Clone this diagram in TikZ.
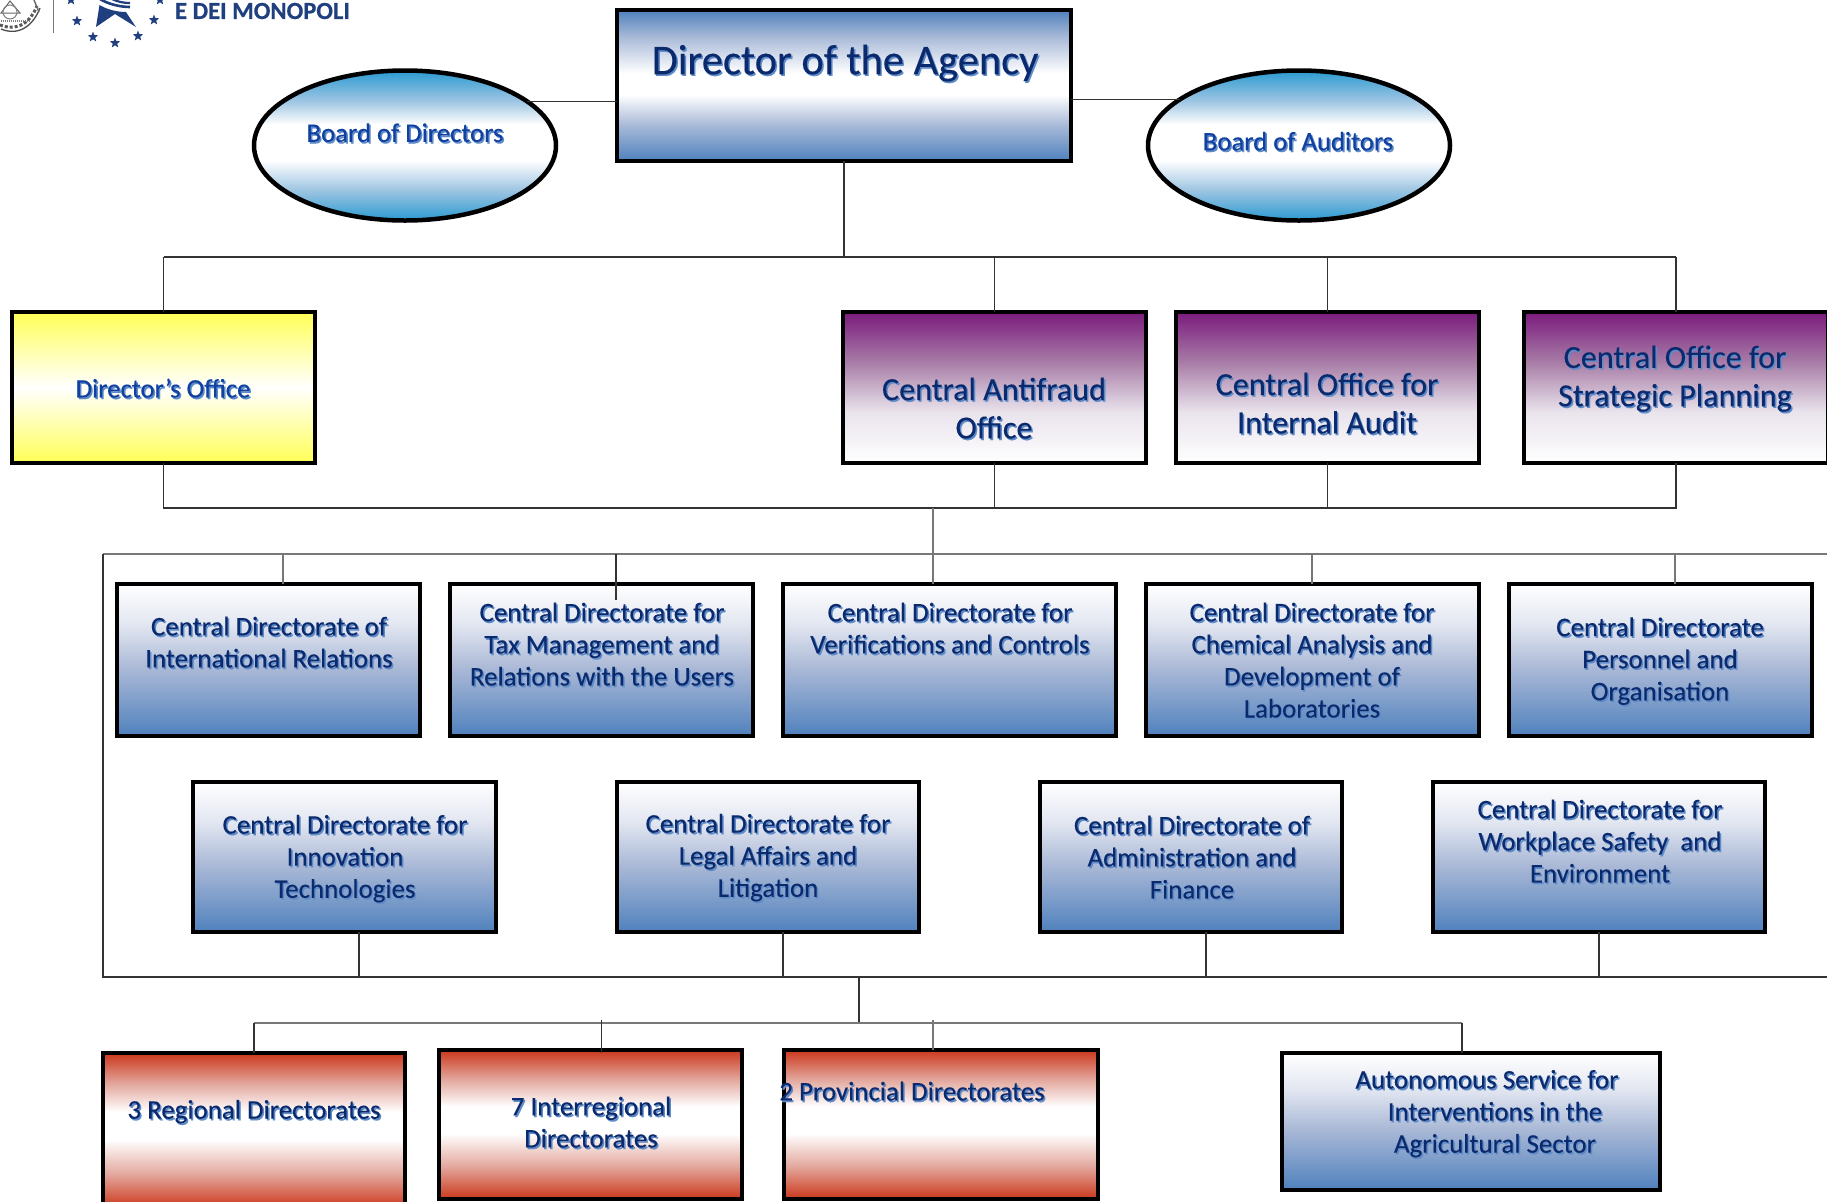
\documentclass[tikz,border=0pt]{standalone}
\usepackage{fontspec}
\setmainfont{Carlito}[FakeBold=0.25]
\newfontfamily\logofont{Carlito}[FakeBold=0.6]
\usetikzlibrary{shapes.geometric,calc}
\definecolor{navy}{HTML}{0B2A6E}
\definecolor{royal}{HTML}{1040A0}
\definecolor{shd}{HTML}{5F8CC8}
\definecolor{ln}{HTML}{333333}
\definecolor{lg}{HTML}{777777}
\definecolor{lblue}{HTML}{4F81BD}
\definecolor{logob}{HTML}{1F3F7F}
\definecolor{dirm}{HTML}{A9BAD8}
\pgfdeclareverticalshading{gdir}{100bp}{color(0bp)=(lblue);color(25bp)=(lblue);color(37bp)=(dirm);color(47bp)=(white);color(54bp)=(white);color(66bp)=(dirm);color(75bp)=(lblue);color(100bp)=(lblue)}
\definecolor{sky}{HTML}{2A9AD0}
\definecolor{skym}{HTML}{9CC4E2}
\pgfdeclareverticalshading{gsky}{100bp}{color(0bp)=(sky);color(25bp)=(sky);color(35bp)=(skym);color(45bp)=(white);color(57bp)=(white);color(65bp)=(skym);color(75bp)=(sky);color(100bp)=(sky)}
\definecolor{yel}{HTML}{FFFF55}
\pgfdeclareverticalshading{gyel}{100bp}{color(0bp)=(yel);color(25bp)=(yel);color(50bp)=(white);color(75bp)=(yel);color(100bp)=(yel)}
\definecolor{pur}{HTML}{7A1A7C}
\definecolor{purm}{HTML}{A97FA8}
\definecolor{purl}{HTML}{E9E3EC}
\pgfdeclareverticalshading{gpur}{100bp}{color(0bp)=(white);color(25bp)=(white);color(42bp)=(purl);color(58bp)=(purm);color(75bp)=(pur);color(100bp)=(pur)}
\definecolor{blm}{HTML}{A9B8D6}
\definecolor{bll}{HTML}{E3E7F1}
\pgfdeclareverticalshading{gblu}{100bp}{color(0bp)=(lblue);color(25bp)=(lblue);color(47bp)=(blm);color(62bp)=(bll);color(75bp)=(white);color(100bp)=(white)}
\definecolor{redc}{HTML}{CB371B}
\definecolor{redm}{HTML}{E3A89E}
\pgfdeclareverticalshading{gred}{100bp}{color(0bp)=(redc);color(25bp)=(redc);color(36bp)=(redm);color(47bp)=(white);color(56bp)=(white);color(65bp)=(redm);color(75bp)=(redc);color(100bp)=(redc)}
\newcommand\st[1]{\leavevmode\rlap{\kern1.5bp\raisebox{-1.7bp}{\textcolor{shd}{#1}}}#1}
\newcommand\bx[6]{\node[boxbase,#2,minimum width={(#5-#3-4)*1bp},minimum height={(#6-#4-4)*1bp}] (#1) at ({(#3+#5)/2},{(#4+#6)/2}) {};}
\tikzset{
 boxbase/.style={draw=black,line width=4bp,rectangle,inner sep=0pt,outer sep=0pt},
 dirbox/.style={shading=gdir},
 yelbox/.style={shading=gyel},
 purbox/.style={shading=gpur},
 blubox/.style={shading=gblu},
 redbox/.style={shading=gred},
 oval/.style={draw=black,line width=4.5bp,ellipse,shading=gsky,inner sep=0pt,outer sep=0pt,minimum width=302bp,minimum height=150bp},
 txt/.style={text=navy,align=center,inner sep=0pt},
 tbig/.style={txt,font=\fontsize{42.6}{44}\selectfont},
 tmid/.style={txt,font=\fontsize{32.3}{38.5}\selectfont},
 trow/.style={txt,font=\fontsize{27}{32.2}\selectfont},
 tsm/.style={txt,text=royal,font=\fontsize{26.8}{32}\selectfont},
 conn/.style={draw=ln,line width=1.1bp},
 conng/.style={draw=lg,line width=1.4bp},
 bar/.style={draw=lg,line width=2.2bp},
 lstar/.style={star,star points=5,star point ratio=2.4,fill=logob,inner sep=0pt,minimum size=11bp},
}
\begin{document}
\begin{tikzpicture}[x=1bp,y=-1bp]
\useasboundingbox (0,0) rectangle (1827,1201);
\fill[white] (0,0) rectangle (1827,1201);
% logo
\begin{scope}
\clip (0,0) rectangle (1827,1201);
\draw[gray!60!black,line width=1.3bp] (1,29) .. controls (12,34) and (30,33) .. (40,8);
\draw[gray!70!black,line width=3bp,dotted] (0,25) .. controls (12,30) and (28,28) .. (37,6);
\draw[gray,line width=2.5bp,dashed,dash pattern=on 1bp off 1bp] (1,21) -- (30,21);
\draw[gray!80!black,line width=1bp] (1,13) -- (10,1) -- (20,13) -- cycle;
\draw[gray,line width=1bp] (10,12) circle (7);
\draw[black!60,line width=1.4bp] (34,0) -- (39,12);
\draw[lg,line width=1bp] (53,0) -- (53,33);
\node[lstar] (s1) at (77,21) {};
\node[lstar] (s2) at (154,20) {};
\node[lstar] (s3) at (93,37) {};
\node[lstar] (s4) at (115,43) {};
\node[lstar] (s5) at (138,36) {};
\node[lstar] (s6) at (71,0) {};
\node[lstar] (s7) at (160,0) {};
\fill[logob] (99.5,5) -- (96,27) -- (115,14) -- (136,27) -- (126,12) .. controls (118,12) and (108,10) .. cycle;
\draw[logob,line width=2.6bp] (100,-1) .. controls (108,4) and (120,7) .. (130,7);
\draw[logob,line width=2.2bp] (112,-1) .. controls (118,2) and (124,3) .. (130,3);
\end{scope}
\node[inner sep=0pt,text=logob,font=\logofont\fontsize{24.7}{25}\selectfont\bfseries] (logot) at (262.5,11) {E DEI MONOPOLI};
% boxes
\bx{dir}{dirbox}{615}{8}{1073}{163}
\node[oval] (bd) at (405,145.5) {};
\node[oval] (ba) at (1299,145.5) {};
\bx{off}{yelbox}{10}{310}{317}{465}
\bx{anti}{purbox}{841}{310}{1148}{465}
\bx{audit}{purbox}{1174}{310}{1481}{465}
\bx{plan}{purbox}{1522}{310}{1830}{465}
\bx{c1}{blubox}{115}{582}{422}{738}
\bx{c2}{blubox}{448}{582}{755}{738}
\bx{c3}{blubox}{781}{582}{1118}{738}
\bx{c4}{blubox}{1144}{582}{1481}{738}
\bx{c5}{blubox}{1507}{582}{1814}{738}
\bx{d1}{blubox}{191}{780}{498}{934}
\bx{d2}{blubox}{615}{780}{921}{934}
\bx{d3}{blubox}{1038}{780}{1344}{934}
\bx{d4}{blubox}{1431}{780}{1767}{934}
\bx{r1}{redbox}{101}{1051}{407}{1210}
\bx{r2}{redbox}{437}{1048}{744}{1201}
\bx{r3}{redbox}{782}{1048}{1100}{1201}
\bx{auto}{blubox}{1280}{1051}{1662}{1192}
% coordinates of the rails
\coordinate (h1) at (843,257);
\coordinate (h2) at (933,508);
\coordinate (ftl) at (103,554);
\coordinate (ftr) at (1827,554);
\coordinate (fbl) at (103,977);
\coordinate (fbr) at (1827,977);
\coordinate (h3) at (859,1023);
\coordinate (t1) at (283,554);
\coordinate (t2) at (616,554);
\coordinate (t2e) at (616,600);
\coordinate (t3) at (933,554);
\coordinate (t4) at (1312,554);
\coordinate (t5) at (1675,554);
\coordinate (b1) at (359,977);
\coordinate (b2) at (783,977);
\coordinate (b3) at (1206,977);
\coordinate (b4) at (1599,977);
\coordinate (m) at (859,977);
\coordinate (u2) at (601.5,1020);
\coordinate (u2e) at (601.5,1053);
\coordinate (u3) at (933,1020);
\coordinate (u4) at (1462,1023);
% connectors
\draw[conn] (bd.20.3) -- (bd.20.3 -| dir.west);
\draw[conn] (ba.159.7) -- (ba.159.7 -| dir.east);
\draw[conn] (dir.south) -- (dir.south |- h1);
\draw[conn] (off.north |- h1) -- (plan.north |- h1);
\draw[conn] (off.north |- h1) -- (off.north);
\draw[conn] (anti.north |- h1) -- (anti.north);
\draw[conn] (audit.north |- h1) -- (audit.north);
\draw[conn] (plan.north |- h1) -- (plan.north);
\draw[conn] (off.south) -- (off.south |- h2) -- (plan.south |- h2) -- (plan.south);
\draw[conn] (anti.south) -- (anti.south |- h2);
\draw[conn] (audit.south) -- (audit.south |- h2);
\draw[conng] (h2) -- (t3);
\draw[conng] (ftr) -- (ftl);
\draw[conn] (ftl) -- (fbl) -- (fbr);
\draw[conng] (t1) -- (t1 |- c1.north);
\draw[conn] (t2) -- (t2e);
\draw[conng] (t3) -- (t3 |- c3.north);
\draw[conng] (t4) -- (t4 |- c4.north);
\draw[conng] (t5) -- (t5 |- c5.north);
\draw[conn] (b1) -- (b1 |- d1.south);
\draw[conn] (b2) -- (b2 |- d2.south);
\draw[conn] (b3) -- (b3 |- d3.south);
\draw[conn] (b4) -- (b4 |- d4.south);
\draw[conn] (m) -- (h3);
\draw[bar] (r1.north |- h3) -- (u4);
\draw[conn] (r1.north |- h3) -- (r1.north);
\draw[conn] (u2) -- (u2e);
\draw[conng] (u3) -- (u3 |- r3.north);
\draw[conn] (u4) -- (u4 |- auto.north);
% texts
\node[tbig] (dirt) at (845,64) {\st{Director of the Agency}};
\node[tsm] (bdt) at (405,133.5) {\st{Board of Directors}};
\node[tsm] (bat) at (1298,142) {\st{Board of Auditors}};
\node[tsm] (offt) at (163,389) {\st{Director’s Office}};
\node[tmid] (antit) at (994,409) {\st{Central Antifraud}\\\st{Office}};
\node[tmid] (auditt) at (1327,404) {\st{Central Office for}\\\st{Internal Audit}};
\node[tmid] (plant) at (1675,379.5) {\st{Central Office for}\\\st{Strategic Planning}};
\node[trow] (c1t) at (269,643) {\st{Central Directorate of}\\\st{International Relations}};
\node[trow] (c2t) at (602,645) {\st{Central Directorate for}\\\st{Tax Management and}\\\st{Relations with the Users}};
\node[trow] (c3t) at (950,629) {\st{Central Directorate for}\\\st{Verifications and Controls}};
\node[trow] (c4t) at (1312,661) {\st{Central Directorate for}\\\st{Chemical Analysis and}\\\st{Development of}\\\st{Laboratories}};
\node[trow] (c5t) at (1660,662) {\st{Central Directorate}\\\st{Personnel and}\\\st{Organisation}};
\node[trow] (d1t) at (345,859.5) {\st{Central Directorate for}\\\st{Innovation}\\\st{Technologies}};
\node[trow] (d2t) at (768,858.5) {\st{Central Directorate for}\\\st{Legal Affairs and}\\\st{Litigation}};
\node[trow] (d3t) at (1192,858) {\st{Central Directorate of}\\\st{Administration and}\\\st{Finance}};
\node[trow] (d4t) at (1600,842) {\st{Central Directorate for}\\\st{Workplace Safety\ \ and}\\\st{Environment}};
\node[trow] (r1t) at (254,1112.5) {\st{3 Regional Directorates}};
\node[trow] (r2t) at (591,1123) {\st{7 Interregional}\\\st{Directorates}};
\node[trow] (r3t) at (912,1092) {\st{2 Provincial Directorates}};
\node[trow] (autot) at (1495,1114.5) {\st{Autonomous Service for\hspace*{16bp}}\\\st{Interventions in the}\\\st{Agricultural Sector}};
\end{tikzpicture}
\end{document}
